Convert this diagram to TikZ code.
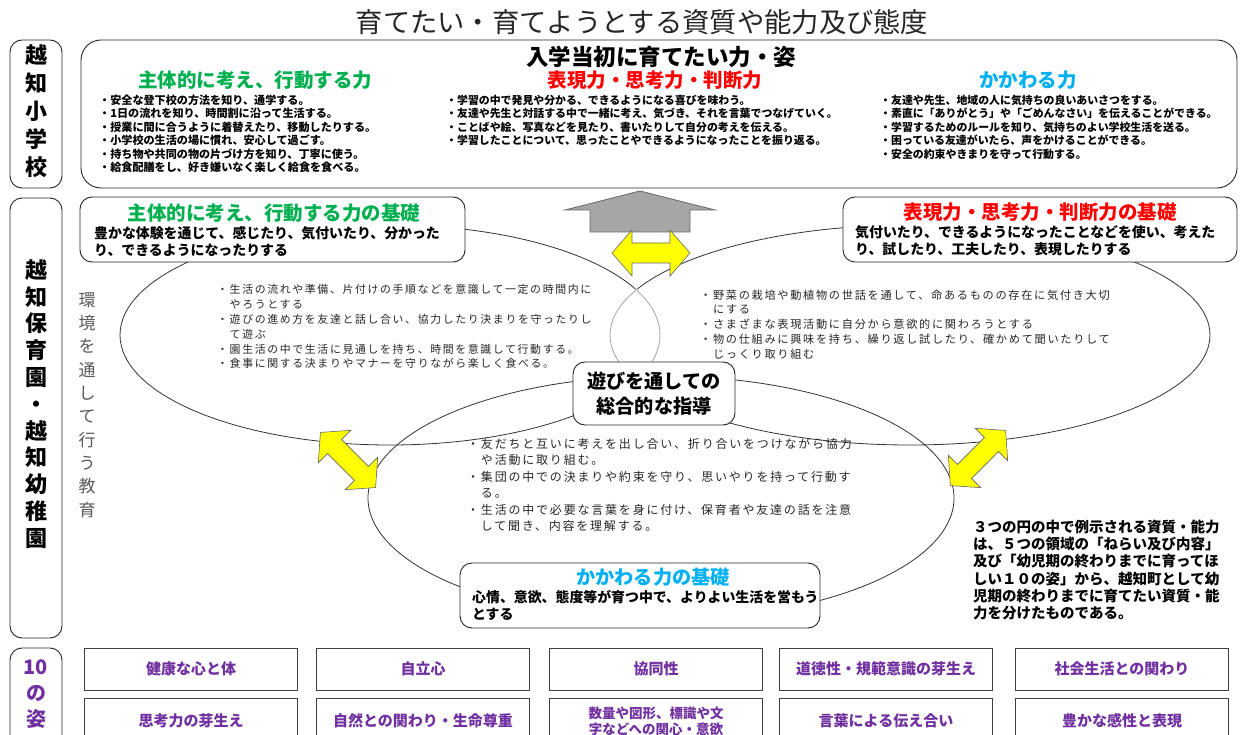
\documentclass[tikz,border=0pt]{standalone}
\usepackage{fontspec}
\setmainfont{Noto Sans CJK JP}
\newfontfamily\jpsp{Noto Sans CJK JP}[LetterSpace=15]
\definecolor{jgreen}{HTML}{00B050}
\definecolor{jred}{HTML}{FF0000}
\definecolor{jblue}{HTML}{00B0F0}
\definecolor{jpurple}{HTML}{7030A0}
\definecolor{jgray}{HTML}{A6A6A6}
\definecolor{jyellow}{HTML}{FFFF00}
\tikzset{
  rbox/.style={draw=black!85, line width=0.9pt, rounded corners=12pt, fill=white, inner sep=0pt},
  sbox/.style={draw=black!75, line width=0.9pt, fill=white, inner sep=0pt, align=center, text=jpurple},
  tx/.style={inner sep=0pt, anchor=north west, align=left},
  ctx/.style={inner sep=0pt, align=center},
  ell/.style={draw=black!80, line width=0.8pt},
  lens/.style={draw=black!35, line width=0.8pt},
  yarrow/.style={fill=jyellow, draw=black!60, line width=0.6pt, line join=miter},
}
\newcommand\yellowdbl[3]{%
  \begin{scope}[shift={(#1,#2)}, rotate=#3]
    \filldraw[yarrow] (-39,0) -- (-19,-23) -- (-19,-10) -- (19,-10) -- (19,-23) -- (39,0)
      -- (19,23) -- (19,10) -- (-19,10) -- (-19,23) -- cycle;
  \end{scope}}
\begin{document}
\begin{tikzpicture}[x=1pt,y=-1pt]
\useasboundingbox (0,0) rectangle (1240,735);
\fill[white] (0,0) rectangle (1240,735);

% title
\node[ctx, text=black!85, font=\fontsize{27.3}{30}\selectfont] (title) at (642,22) {育てたい・育てようとする資質や能力及び態度};

% left labels
\node[rbox, minimum width=52pt, minimum height=148pt] (lblA) at (36,114) {};
\node[ctx, font=\fontsize{22}{28}\selectfont\bfseries] (lblAt) at (36,111) {越\\知\\小\\学\\校};
\node[rbox, minimum width=52pt, minimum height=440pt] (lblB) at (36,418) {};
\node[ctx, font=\fontsize{22}{26.8}\selectfont\bfseries] (lblBt) at (36,404) {越\\知\\保\\育\\園\\・\\越\\知\\幼\\稚\\園};
\node[rbox, minimum width=52pt, minimum height=100pt] (lblC) at (36,698) {};
\node[ctx, text=jpurple, font=\fontsize{20}{26}\selectfont\bfseries] (lblCt) at (36,694) {10\\の\\姿};
\node[ctx, text=black!65, font=\fontsize{17}{23.3}\selectfont] (env) at (87,405) {環\\境\\を\\通\\し\\て\\行\\う\\教\\育};

% top box
\node[rbox, rounded corners=20pt, minimum width=1156pt, minimum height=148pt] (topbox) at (659,114) {};
\node[ctx, font=\fontsize{22.5}{25}\selectfont\bfseries] (toptitle) at (661,57) {入学当初に育てたい力・姿};
\node[ctx, text=jgreen, font=\fontsize{19.5}{22}\selectfont\bfseries] (h1) at (255,80) {主体的に考え、行動する力};
\node[ctx, text=jred, font=\fontsize{19.5}{22}\selectfont\bfseries] (h2) at (655,80) {表現力・思考力・判断力};
\node[ctx, text=jblue, font=\fontsize{19.5}{22}\selectfont\bfseries] (h3) at (1028,80) {かかわる力};
\node[tx, font=\fontsize{11.1}{13.5}\selectfont\bfseries] (b1) at (99,94.5) {・安全な登下校の方法を知り、通学する。\\・1日の流れを知り、時間割に沿って生活する。\\・授業に間に合うように着替えたり、移動したりする。\\・小学校の生活の場に慣れ、安心して過ごす。\\・持ち物や共同の物の片づけ方を知り、丁寧に使う。\\・給食配膳をし、好き嫌いなく楽しく給食を食べる。};
\node[tx, font=\fontsize{10.9}{13.5}\selectfont\bfseries] (b2) at (446,94.5) {・学習の中で発見や分かる、できるようになる喜びを味わう。\\・友達や先生と対話する中で一緒に考え、気づき、それを言葉でつなげていく。\\・ことばや絵、写真などを見たり、書いたりして自分の考えを伝える。\\・学習したことについて、思ったことやできるようになったことを振り返る。};
\node[tx, font=\fontsize{10.9}{13.5}\selectfont\bfseries] (b3) at (880,94.5) {・友達や先生、地域の人に気持ちの良いあいさつをする。\\・素直に「ありがとう」や「ごめんなさい」を伝えることができる。\\・学習するためのルールを知り、気持ちのよい学校生活を送る。\\・困っている友達がいたら、声をかけることができる。\\・安全の約束やきまりを守って行動する。};

% ellipses
\draw[ell] (390,335) ellipse [x radius=270pt, y radius=110pt];
\draw[ell] (910,335) ellipse [x radius=300pt, y radius=110pt];
\draw[ell] (661,498) ellipse [x radius=293pt, y radius=122pt];
% lighter lens where the two upper circles overlap
\begin{scope}
  \clip (910,335) ellipse [x radius=300pt, y radius=110pt];
  \draw[white, line width=2pt] (390,335) ellipse [x radius=270pt, y radius=110pt];
  \draw[lens] (390,335) ellipse [x radius=270pt, y radius=110pt];
\end{scope}
\begin{scope}
  \clip (390,335) ellipse [x radius=270pt, y radius=110pt];
  \draw[white, line width=2pt] (910,335) ellipse [x radius=300pt, y radius=110pt];
  \draw[lens] (910,335) ellipse [x radius=300pt, y radius=110pt];
\end{scope}

% ellipse texts
\node[tx, text=black!85, font=\jpsp\fontsize{10.9}{14.8}\selectfont] (e1) at (217,284.5) {・生活の流れや準備、片付けの手順などを意識して一定の時間内に\\　やろうとする\\・遊びの進め方を友達と話し合い、協力したり決まりを守ったりし\\　て遊ぶ\\・園生活の中で生活に見通しを持ち、時間を意識して行動する。\\・食事に関する決まりやマナーを守りながら楽しく食べる。};
\node[tx, text=black!85, font=\jpsp\fontsize{11.2}{14.8}\selectfont] (e2) at (700,289.4) {・野菜の栽培や動植物の世話を通して、命あるものの存在に気付き大切\\　にする\\・さまざまな表現活動に自分から意欲的に関わろうとする\\・物の仕組みに興味を持ち、繰り返し試したり、確かめて聞いたりして\\　じっくり取り組む};
\node[tx, text=black!85, font=\jpsp\fontsize{12}{16.5}\selectfont] (e3) at (467,438) {・友だちと互いに考えを出し合い、折り合いをつけながら協力\\　や活動に取り組む。\\・集団の中での決まりや約束を守り、思いやりを持って行動す\\　る。\\・生活の中で必要な言葉を身に付け、保育者や友達の話を注意\\　して聞き、内容を理解する。};

% boxes over ellipses
\node[rbox, minimum width=385pt, minimum height=65pt] (lbox) at (272.5,229.5) {};
\node[ctx, text=jgreen, font=\fontsize{19.5}{22}\selectfont\bfseries] (lboxh) at (274,213) {主体的に考え、行動する力の基礎};
\node[tx, font=\fontsize{13.9}{17}\selectfont\bfseries] (lboxt) at (94,226) {豊かな体験を通じて、感じたり、気付いたり、分かった\\り、できるようになったりする};

\node[rbox, minimum width=394pt, minimum height=65pt] (rbx) at (1040,229.5) {};
\node[ctx, text=jred, font=\fontsize{19.5}{22}\selectfont\bfseries] (rboxh) at (1040,212) {表現力・思考力・判断力の基礎};
\node[tx, font=\fontsize{13.9}{17}\selectfont\bfseries] (rboxt) at (855,225) {気付いたり、できるようになったことなどを使い、考えた\\り、試したり、工夫したり、表現したりする};

\node[rbox, minimum width=162pt, minimum height=63pt] (cbox) at (654,393.5) {};
\node[ctx, font=\fontsize{19.2}{25}\selectfont\bfseries] (cboxt) at (654,393.5) {遊びを通しての\\総合的な指導};

\node[rbox, minimum width=360pt, minimum height=65pt] (bbx) at (640,595.5) {};
\node[ctx, text=jblue, font=\fontsize{19.2}{22}\selectfont\bfseries] (bboxh) at (653,577) {かかわる力の基礎};
\node[tx, font=\fontsize{13.9}{17}\selectfont\bfseries] (bboxt) at (472,590) {心情、意欲、態度等が育つ中で、よりよい生活を営もう\\とする};

% note
\node[tx, font=\fontsize{14.5}{17.2}\selectfont\bfseries] (note) at (973,519.7) {３つの円の中で例示される資質・能力\\は、５つの領域の「ねらい及び内容」\\及び「幼児期の終わりまでに育ってほ\\しい１０の姿」から、越知町として幼\\児期の終わりまでに育てたい資質・能\\力を分けたものである。};

% arrows
\filldraw[fill=jgray, draw=black!60, line width=0.8pt, line join=miter] (640,191) -- (715,210) -- (690,210) -- (690,232) -- (590,232) -- (590,210) -- (565,210) -- cycle;
\yellowdbl{651}{253}{0}
\yellowdbl{348}{460}{-45}
\yellowdbl{978}{458}{45}

% ten figures
\begin{scope}[every node/.append style={font=\fontsize{15}{18}\selectfont\bfseries}]
\node[sbox, minimum width=213pt, minimum height=42pt] (t1) at (191,669) {健康な心と体};
\node[sbox, minimum width=213pt, minimum height=42pt] (t2) at (423,669) {自立心};
\node[sbox, minimum width=213pt, minimum height=42pt] (t3) at (656,669) {協同性};
\node[sbox, minimum width=213pt, minimum height=42pt] (t4) at (886,669) {道徳性・規範意識の芽生え};
\node[sbox, minimum width=213pt, minimum height=42pt] (t5) at (1122,669) {社会生活との関わり};
\node[sbox, minimum width=213pt, minimum height=46pt] (u1) at (191,721) {思考力の芽生え};
\node[sbox, minimum width=213pt, minimum height=46pt] (u2) at (423,721) {自然との関わり・生命尊重};
\node[sbox, minimum width=213pt, minimum height=46pt, font=\fontsize{13.5}{16}\selectfont\bfseries] (u3) at (656,721) {数量や図形、標識や文\\字などへの関心・意欲};
\node[sbox, minimum width=213pt, minimum height=46pt] (u4) at (886,721) {言葉による伝え合い};
\node[sbox, minimum width=213pt, minimum height=46pt] (u5) at (1122,721) {豊かな感性と表現};
\end{scope}
\end{tikzpicture}
\end{document}
